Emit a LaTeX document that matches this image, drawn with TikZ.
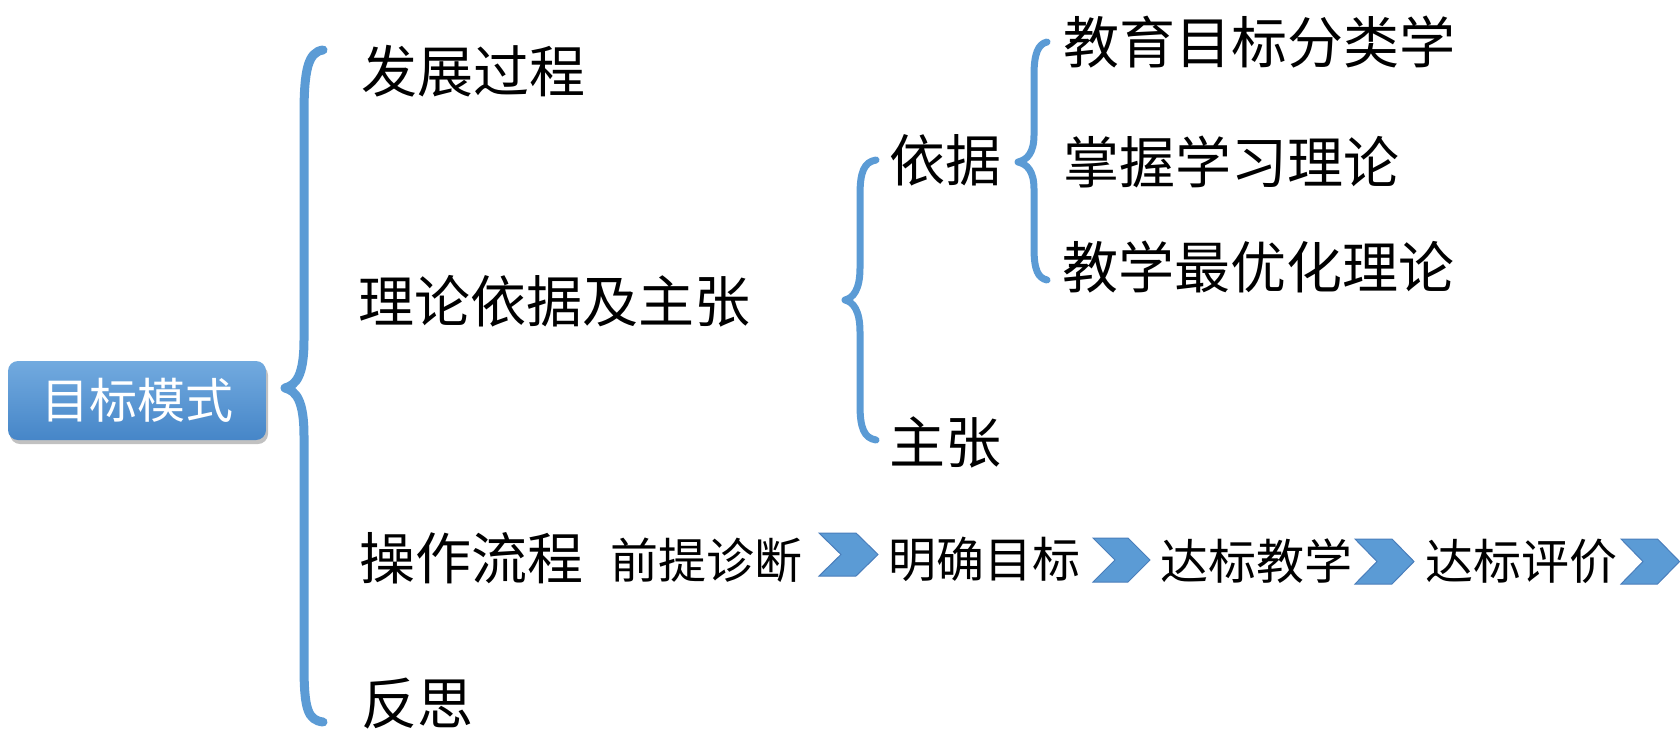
\documentclass[tikz,border=0pt]{standalone}
\usepackage{fontspec}
\newfontfamily\cjk{Noto Sans CJK SC}
\usetikzlibrary{shadows}
\definecolor{braceblue}{HTML}{5B9BD5}
\definecolor{chevfill}{HTML}{5B9BD5}
\definecolor{chevline}{HTML}{4A7EBB}
\definecolor{boxtop}{HTML}{72AADF}
\definecolor{boxbot}{HTML}{4686C8}
\tikzset{
  bigtxt/.style={anchor=west,inner sep=0pt,text height=46.5pt,text depth=3.9pt,font=\cjk\fontsize{56}{60}\selectfont},
  flowtxt/.style={anchor=west,inner sep=0pt,text height=39.8pt,text depth=3.4pt,font=\cjk\fontsize{48}{52}\selectfont},
  rootbox/.style={rectangle,rounded corners=10pt,top color=boxtop,bottom color=boxbot,draw=none,
     minimum width=258pt,minimum height=79pt,inner sep=0pt,text=white,
     font=\cjk\fontsize{48}{52}\selectfont,text height=39.8pt,text depth=3.4pt,
     drop shadow={shadow xshift=2pt,shadow yshift=-4pt,opacity=0.35,fill=black!70}},
  bracestyle/.style={draw=braceblue,line cap=round,line join=round},
  chevstyle/.style={fill=chevfill,draw=chevline,line width=1pt,line join=miter},
}
\newcommand{\mychev}[4]{% left, right, top, bottom
  \pgfmathsetmacro{\cm}{(#3+#4)/2}
  \fill[chevstyle] (#1,#3) -- (#2-22,#3) -- (#2,\cm) -- (#2-22,#4) -- (#1,#4) -- (#1+22,\cm) -- cycle;
}
\begin{document}
\begin{tikzpicture}[x=1pt,y=-1pt]
\useasboundingbox (0,0) rectangle (1680,742);
% root
\node[rootbox] (root) at (137,400.5) {目标模式};
% big brace
\coordinate (b1top) at (323,50);
\coordinate (b1tip) at (285,388);
\coordinate (b1bot) at (323,722);
\draw[bracestyle,line width=9pt] (b1top) .. controls (308,52) and (304,70) .. (304,115) -- (304,340)
   .. controls (304,376) and (296,385) .. (b1tip) .. controls (296,391) and (304,400) .. (304,436)
   -- (304,665) .. controls (304,710) and (308,720) .. (b1bot);
% level 1
\node[bigtxt] (fz) at (361,71.5) {发展过程};
\node[bigtxt] (ll) at (358,301) {理论依据及主张};
\node[bigtxt] (cz) at (359,558.5) {操作流程};
\node[bigtxt] (fs) at (361,703.5) {反思};
% brace 2
\coordinate (b2top) at (876,160);
\coordinate (b2tip) at (845,300);
\coordinate (b2bot) at (876,440);
\draw[bracestyle,line width=7pt] (b2top) .. controls (864,162) and (860,172) .. (860,195) -- (860,268)
   .. controls (860,290) and (853,298) .. (b2tip) .. controls (853,302) and (860,310) .. (860,332)
   -- (860,405) .. controls (860,428) and (864,438) .. (b2bot);
\node[bigtxt] (yj) at (889,160.5) {依据};
\node[bigtxt] (zz) at (889,442.5) {主张};
% brace 3
\coordinate (b3top) at (1047,42);
\coordinate (b3tip) at (1018,162);
\coordinate (b3bot) at (1047,280);
\draw[bracestyle,line width=7pt] (b3top) .. controls (1038,44) and (1034,54) .. (1034,75) -- (1034,135)
   .. controls (1034,153) and (1027,160) .. (b3tip) .. controls (1027,164) and (1034,171) .. (1034,189)
   -- (1034,248) .. controls (1034,270) and (1038,278) .. (b3bot);
\node[bigtxt] (jy) at (1063,42.5) {教育目标分类学};
\node[bigtxt] (zw) at (1063,162.5) {掌握学习理论};
\node[bigtxt] (jx) at (1062,267.5) {教学最优化理论};
% flow
\node[flowtxt] (f1) at (610,560) {前提诊断};
\mychev{819}{878}{533}{576}
\node[flowtxt] (f2) at (888,559) {明确目标};
\mychev{1093}{1150}{538}{582}
\node[flowtxt] (f3) at (1160,561.5) {达标教学};
\mychev{1355}{1414}{539}{584}
\node[flowtxt] (f4) at (1425,561.5) {达标评价};
\mychev{1621}{1679.5}{539}{584}
\end{tikzpicture}
\end{document}
